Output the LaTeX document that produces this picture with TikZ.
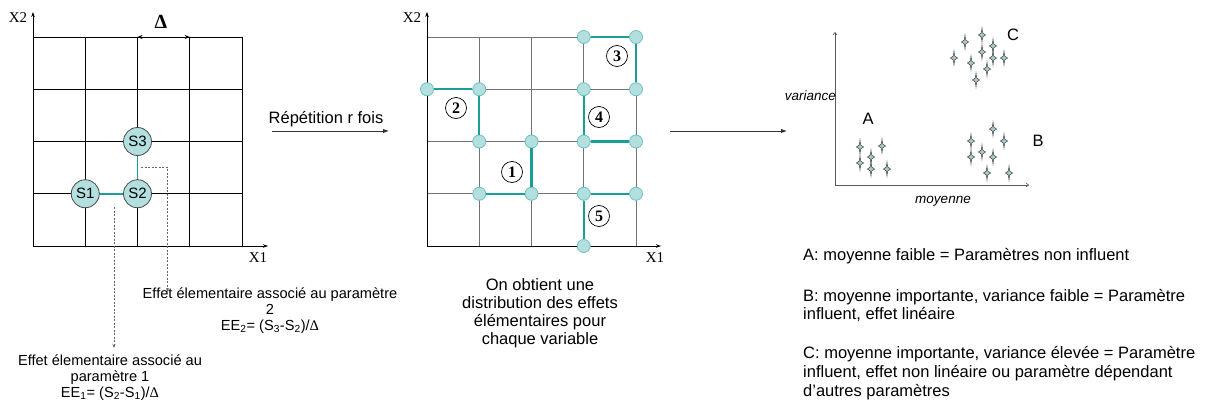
\documentclass[tikz,border=0pt]{standalone}
\usepackage{fontspec}
\setmainfont{Liberation Sans}
\newfontfamily\seriffont{Liberation Serif}
\usetikzlibrary{arrows.meta}
\definecolor{tealline}{HTML}{1A9E9A}
\definecolor{tealfill}{HTML}{B3DFDF}
\definecolor{tealedge}{HTML}{6FC0C0}
\definecolor{starfill}{HTML}{A8CACA}
\begin{document}
\begin{tikzpicture}[x=1pt,y=-1pt,
  gridA/.style={black,line width=0.8pt},
  gridB/.style={black!55,line width=0.8pt},
  axisline/.style={black,line width=0.8pt,-{Stealth[length=5pt,width=3.5pt]}},
  snode/.style={circle,draw=black!70,fill=tealfill,line width=0.8pt,minimum size=28pt,inner sep=0pt,font=\fontsize{15}{15}\selectfont},
  pnode/.style={circle,draw=tealedge,fill=tealfill,line width=0.8pt,minimum size=13pt,inner sep=0pt},
  traj/.style={tealline,line width=2.2pt},
  numnode/.style={circle,draw=black,line width=0.7pt,minimum size=21pt,inner sep=0pt,font=\seriffont\bfseries\fontsize{16}{16}\selectfont},
  txt/.style={anchor=base,inner sep=0pt,font=\fontsize{16.5}{18}\selectfont},
  stxt/.style={anchor=base,inner sep=0pt,font=\fontsize{14.6}{16}\selectfont},
  ltxt/.style={anchor=base west,inner sep=0pt,font=\fontsize{16.5}{18}\selectfont},
  axlabel/.style={inner sep=0pt,font=\seriffont\fontsize{15}{15}\selectfont},
  dashconn/.style={black!60,dash pattern=on 2pt off 1.5pt,line width=0.7pt,-{Stealth[length=4pt,width=3pt]}},
  flow/.style={black!80,line width=1pt,-{Latex[length=6pt,width=4.5pt]}},
  scaxis/.style={black!65,line width=0.6pt,-{To[length=3pt,width=4pt]}},
  sparkle/.pic={\path[draw=black!75,fill=starfill,line width=0.5pt]
     (0,-7) .. controls (0.6,-1.2) .. (3.6,0) .. controls (0.6,1.2) .. (0,7)
     .. controls (-0.6,1.2) .. (-3.6,0) .. controls (-0.6,-1.2) .. (0,-7) -- cycle;}
]
\useasboundingbox (0,0) rectangle (1207,404);
\fill[white] (0,0) rectangle (1207,404);

% ---------- Grid 1 ----------
\foreach \i in {0,...,4} {
  \draw[gridA] ({33+52.25*\i},37) -- ({33+52.25*\i},246);
  \draw[gridA] (33,{37+52.25*\i}) -- (242,{37+52.25*\i});
}
\coordinate (o1) at (33,246);
\coordinate (y1) at (33,12);
\coordinate (x1) at (268,246);
\draw[axisline] (o1) -- (y1);
\draw[axisline] (o1) -- (x1);
\node[axlabel] (lx2a) at (18,18) {X2};
\node[axlabel] (lx1a) at (258,258) {X1};
\coordinate (dl) at (137.5,37);
\coordinate (dr) at (189.75,37);
\draw[line width=0.8pt,{Stealth[length=5pt,width=4pt]}-{Stealth[length=5pt,width=4pt]}] (dl) -- (dr);
\node[inner sep=0pt,font=\seriffont\bfseries\fontsize{20}{20}\selectfont] (delta) at (161,22) {Δ};

\node[snode] (s1) at (85.25,193.75) {S1};
\node[snode] (s2) at (137.5,193.75) {S2};
\node[snode] (s3) at (137.5,141.5) {S3};
\draw[tealline,line width=1.6pt] (s1) -- (s2);
\draw[tealline,line width=1.6pt] (s2) -- (s3);

\coordinate (d2a) at (141,167.5);
\coordinate (d2b) at (167.5,167.5);
\coordinate (d2c) at (167.5,292);
\draw[dashconn] (d2a) -- (d2b) -- (d2c);
\coordinate (d1a) at (114,207);
\coordinate (d1b) at (114,348);
\draw[dashconn] (d1a) -- (d1b);

\node[stxt] (ee2a) at (270,298) {Effet élementaire associé au paramètre};
\node[stxt] (ee2b) at (270,314) {2};
\node[stxt] (ee2c) at (270,330) {EE\textsubscript{2}= (S\textsubscript{3}-S\textsubscript{2})/{\seriffont Δ}};
\node[stxt] (ee1a) at (110,365) {Effet élementaire associé au};
\node[stxt] (ee1b) at (110,381) {paramètre 1};
\node[stxt] (ee1c) at (110,397) {EE\textsubscript{1}= (S\textsubscript{2}-S\textsubscript{1})/{\seriffont Δ}};

% ---------- Repetition arrow ----------
\node[txt] (rep) at (326,123) {Répétition r fois};
\coordinate (r1) at (272,131);
\coordinate (r2) at (389,131);
\draw[flow] (r1) -- (r2);

% ---------- Grid 2 ----------
\foreach \i in {0,...,4} {
  \draw[gridB] ({427+52.25*\i},37) -- ({427+52.25*\i},246);
  \draw[gridB] (427,{37+52.25*\i}) -- (636,{37+52.25*\i});
}
\coordinate (o2) at (427,246);
\coordinate (y2) at (427,12);
\coordinate (x2) at (661,246);
\draw[axisline] (o2) -- (y2);
\draw[axisline] (o2) -- (x2);
\node[axlabel] (lx2b) at (412,18) {X2};
\node[axlabel] (lx1b) at (655,258) {X1};

\node[pnode] (a1) at (479.25,193.75) {};
\node[pnode] (a2) at (531.5,193.75) {};
\node[pnode] (a3) at (531.5,141.5) {};
\node[pnode] (b1) at (427,89.25) {};
\node[pnode] (b2) at (479.25,89.25) {};
\node[pnode] (b3) at (479.25,141.5) {};
\node[pnode] (c1) at (583.75,37) {};
\node[pnode] (c2) at (636,37) {};
\node[pnode] (c3) at (636,89.25) {};
\node[pnode] (d1) at (583.75,89.25) {};
\node[pnode] (d2) at (583.75,141.5) {};
\node[pnode] (d3) at (636,141.5) {};
\node[pnode] (e1) at (636,193.75) {};
\node[pnode] (e2) at (583.75,193.75) {};
\node[pnode] (e3) at (583.75,246) {};
\draw[traj] (a1) -- (a2) -- (a3);
\draw[traj] (b1) -- (b2) -- (b3);
\draw[traj] (c1) -- (c2) -- (c3);
\draw[traj] (d1) -- (d2) -- (d3);
\draw[traj] (e1) -- (e2) -- (e3);

\node[numnode] (n1) at (512,172) {1};
\node[numnode] (n2) at (456,108) {2};
\node[numnode] (n3) at (617,56) {3};
\node[numnode] (n4) at (599,117) {4};
\node[numnode] (n5) at (599,216) {5};

\node[txt] (m1) at (540,290) {On obtient une};
\node[txt] (m2) at (540,308) {distribution des effets};
\node[txt] (m3) at (540,326) {élémentaires pour};
\node[txt] (m4) at (540,344) {chaque variable};

% ---------- Arrow to scatter ----------
\coordinate (r3) at (670,131);
\coordinate (r4) at (787,131);
\draw[flow] (r3) -- (r4);

% ---------- Scatter plot ----------
\coordinate (o3) at (835,185);
\coordinate (y3) at (835,32);
\coordinate (x3) at (1029,185);
\draw[scaxis] (o3) -- (y3);
\draw[scaxis] (o3) -- (x3);
\node[anchor=base east,inner sep=0pt,font=\itshape\fontsize{13.5}{14}\selectfont] (lvar) at (836,100) {variance};
\node[anchor=base,inner sep=0pt,font=\itshape\fontsize{13.5}{14}\selectfont] (lmoy) at (943,203) {moyenne};
\node[txt] (lA) at (868,124) {A};
\node[txt] (lB) at (1038,146) {B};
\node[txt] (lC) at (1013,41) {C};

\foreach \p in {(860,147),(882,146),(871,157),(860,163),(871,169),(887,169),
  (993,129),(971,141),(1004,141),(982,152),(971,157),(993,157),(987,173),(1009,173),
  (982,35),(965,42),(993,46),(982,52),(954,58),(971,63),(993,58),(1004,58),(987,69),(976,80)}
  \pic at \p {sparkle};

% ---------- Right text ----------
\node[ltxt] (tA) at (803,260) {A: moyenne faible = Paramètres non influent};
\node[ltxt] (tB1) at (803,301) {B: moyenne importante, variance faible = Paramètre};
\node[ltxt] (tB2) at (803,319) {influent, effet linéaire};
\node[ltxt] (tC1) at (803,358) {C: moyenne importante, variance élevée = Paramètre};
\node[ltxt] (tC2) at (803,377) {influent, effet non linéaire ou paramètre dépendant};
\node[ltxt] (tC3) at (803,396) {d'autres paramètres};
\end{tikzpicture}
\end{document}
